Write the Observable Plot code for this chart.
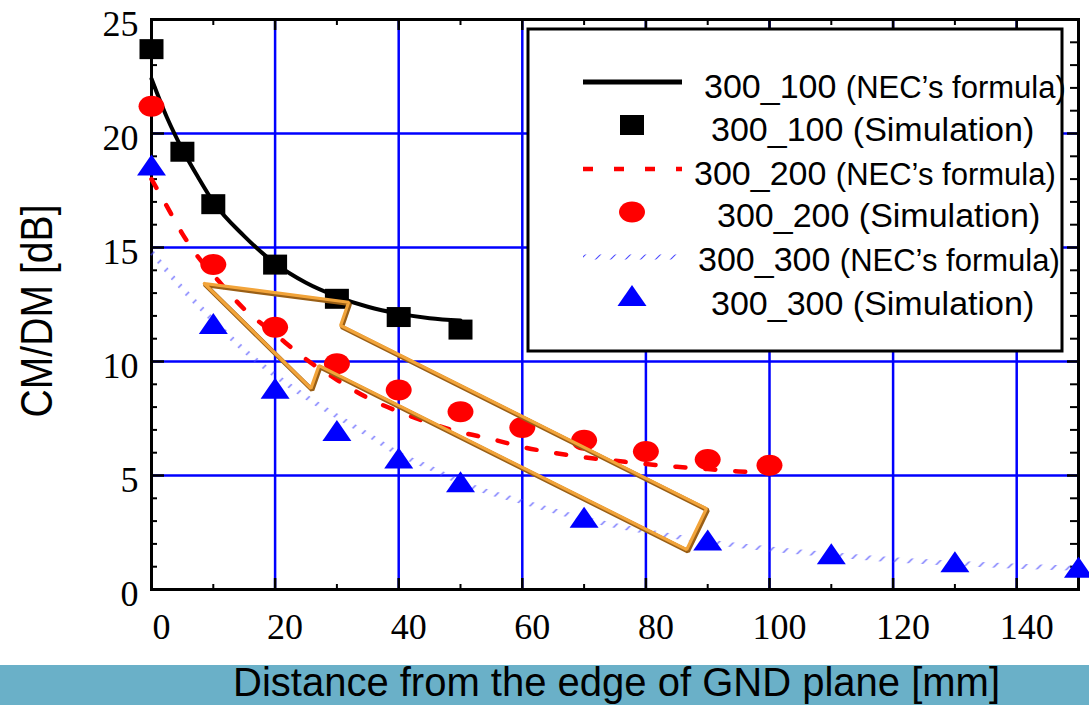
<!DOCTYPE html>
<html>
<head>
<meta charset="utf-8">
<script src="https://cdn.jsdelivr.net/npm/d3@7"></script>
<script src="https://cdn.jsdelivr.net/npm/@observablehq/plot@0.6"></script>
<style>
  body { margin: 0; background: #fff; }
  #wrap { width: 1089px; position: relative; }
  .xlabel {
    height: 40px; background: #6ab0c8; color: #000;
    font: 40px "Liberation Sans", Arial, sans-serif; line-height: 34px;
    padding-left: 233px; white-space: nowrap;
  }
</style>
</head>
<body>
<svg width="0" height="0" style="position:absolute">
  <defs>
    <!-- diagonal hatch used as the paint of the 300_300 formula curve -->
    <pattern id="hatch" patternUnits="userSpaceOnUse" width="15" height="15">
      <path d="M-1,16L16,-1M-1,1L1,-1M14,16L16,14" stroke="#4a4aff" stroke-width="1.1"/>
    </pattern>
  </defs>
</svg>
<div id="wrap"></div>
<div class="xlabel">Distance from the edge of GND plane [mm]</div>
<script>
// 300_100: NEC's formula and simulation
const xNec100 = [0, 2.5, 5, 7.5, 10, 15, 20, 25, 30, 35, 40, 45, 50];
const nec100  = [22.4, 20.7, 19.3, 18.1, 17.0, 15.5, 14.3, 13.45, 12.85, 12.4, 12.1, 11.9, 11.8];
const xSim100 = [0, 5, 10, 20, 30, 40, 50];
const sim100  = [23.7, 19.2, 16.9, 14.25, 12.75, 11.95, 11.4];

// 300_200
const xNec200 = [0, 2.5, 5, 7.5, 10, 15, 20, 25, 30, 35, 40, 45, 50, 55, 60, 65, 70, 75, 80, 85, 90, 95, 100];
const nec200  = [18.0, 16.8, 15.6, 14.6, 13.8, 12.3, 11.2, 10.1, 9.2, 8.4, 7.8, 7.3, 6.9, 6.6, 6.25, 6.0, 5.8, 5.65, 5.5, 5.38, 5.28, 5.18, 5.1];
const xSim200 = [0, 10, 20, 30, 40, 50, 60, 70, 80, 90, 100];
const sim200  = [21.2, 14.25, 11.5, 9.9, 8.75, 7.8, 7.1, 6.55, 6.05, 5.7, 5.45];

// 300_300
const xNec300 = [0, 5, 10, 15, 20, 25, 30, 35, 40, 45, 50, 60, 70, 80, 90, 100, 110, 120, 130, 140, 150];
const nec300  = [14.8, 13.2, 11.8, 10.5, 9.4, 8.45, 7.6, 6.8, 5.95, 5.35, 4.7, 3.85, 3.1, 2.55, 2.1, 1.78, 1.52, 1.3, 1.15, 1.02, 0.93];
const xSim300 = [0, 10, 20, 30, 40, 50, 70, 90, 110, 130, 150];
const sim300  = [18.6, 11.65, 8.8, 6.95, 5.75, 4.7, 3.15, 2.15, 1.55, 1.2, 0.95];

// hollow arrow annotation (data coordinates)
const arrowX = [8.55, 31.9, 30.6, 89.8, 86.6, 27.1, 25.8, 8.55];
const arrowY = [13.42, 12.6, 11.58, 3.55, 1.75, 9.82, 8.82, 13.42];

// axis ticks and grid
const xTicks = [0, 20, 40, 60, 80, 100, 120, 140];
const yTicks = [0, 5, 10, 15, 20, 25];
const xGrid = [20, 40, 60, 80, 100, 120, 140];
const yGrid = [5, 10, 15, 20];
const xMinor = [10, 30, 50, 70, 90, 110, 130];
const yMinor = d3.range(1, 25).filter(v => v % 5 !== 0);

// legend entries
const legendItems = [
  {kind: "line100", name: "300_100", note: "(NEC’s formula)"},
  {kind: "square",  name: "300_100", note: "(Simulation)"},
  {kind: "line200", name: "300_200", note: "(NEC’s formula)"},
  {kind: "circle",  name: "300_200", note: "(Simulation)"},
  {kind: "line300", name: "300_300", note: "(NEC’s formula)"},
  {kind: "triangle",name: "300_300", note: "(Simulation)"}
];

const zip = (xs, ys) => xs.map((x, i) => ({x, y: ys[i]}));

// marker shapes
const squareSym = {draw(c) { c.moveTo(-12, -10); c.lineTo(12, -10); c.lineTo(12, 10); c.lineTo(-12, 10); c.closePath(); }};
const ellipseSym = {draw(c) {
  const rx = 13, ry = 10.5, k = 0.5523;
  c.moveTo(rx, 0);
  c.bezierCurveTo(rx, ry * k, rx * k, ry, 0, ry);
  c.bezierCurveTo(-rx * k, ry, -rx, ry * k, -rx, 0);
  c.bezierCurveTo(-rx, -ry * k, -rx * k, -ry, 0, -ry);
  c.bezierCurveTo(rx * k, -ry, rx, -ry * k, rx, 0);
  c.closePath();
}};
const triSym = {draw(c) { c.moveTo(0, -11); c.lineTo(14.5, 10); c.lineTo(-14.5, 10); c.closePath(); }};

const W = 1089, H = 665, ML = 151, MR = 11, MT = 19, MB = 76;
const PW = W - ML - MR, PH = H - MT - MB;

const chart = Plot.plot({
  width: W, height: H,
  marginLeft: ML, marginRight: MR, marginTop: MT, marginBottom: MB,
  x: {domain: [0, 150]},
  y: {domain: [0, 25]},
  style: {background: "white", overflow: "visible"},
  marks: [
    Plot.ruleX(xGrid, {stroke: "#0000ff", strokeWidth: 2.5}),
    Plot.ruleY(yGrid, {stroke: "#0000ff", strokeWidth: 2.5}),
    // inward ticks on all four sides
    Plot.tickX(xMinor, {x: d => d, insetTop: PH - 5, stroke: "black", strokeWidth: 2}),
    Plot.tickX(xGrid, {x: d => d, insetTop: PH - 11, stroke: "black", strokeWidth: 2.5}),
    Plot.tickX(xMinor, {x: d => d, insetBottom: PH - 6, stroke: "black", strokeWidth: 2}),
    Plot.tickX(xGrid, {x: d => d, insetBottom: PH - 11, stroke: "black", strokeWidth: 2.5}),
    Plot.tickY(yMinor, {y: d => d, insetRight: PW - 6, stroke: "black", strokeWidth: 2}),
    Plot.tickY(yGrid, {y: d => d, insetRight: PW - 13, stroke: "black", strokeWidth: 2.5}),
    Plot.tickY(yMinor, {y: d => d, insetLeft: PW - 8, stroke: "black", strokeWidth: 2}),
    Plot.tickY(yGrid, {y: d => d, insetLeft: PW - 11, stroke: "black", strokeWidth: 2.5}),
    Plot.frame({stroke: "black", strokeWidth: 3}),
    Plot.axisX({ticks: xTicks, tickSize: 0, tickPadding: 24, dx: 10, fontSize: 36,
      fontFamily: "Liberation Serif", label: null, tickFormat: d => String(d)}),
    Plot.axisY({ticks: yTicks, tickSize: 0, tickPadding: 13, dy: 5, fontSize: 36,
      fontFamily: "Liberation Serif", label: null, tickFormat: d => String(d)}),
    // formula curves
    Plot.line(zip(xNec300, nec300), {x: "x", y: "y", stroke: "url(#hatch)", strokeWidth: 5, curve: "monotone-x"}),
    Plot.line(zip(xNec200, nec200), {x: "x", y: "y", stroke: "#ff0000", strokeWidth: 4.5, strokeDasharray: "10,20", curve: "monotone-x"}),
    Plot.line(zip(xNec100, nec100), {x: "x", y: "y", stroke: "black", strokeWidth: 4, curve: "monotone-x"}),
    // simulation points
    Plot.dot(zip(xSim300, sim300), {x: "x", y: "y", symbol: triSym, fill: "#0000ff", stroke: "none"}),
    Plot.dot(zip(xSim200, sim200), {x: "x", y: "y", symbol: ellipseSym, fill: "#ff0000", stroke: "none"}),
    Plot.dot(zip(xSim100, sim100), {x: "x", y: "y", symbol: squareSym, fill: "black", stroke: "none"}),
    // hollow arrow
    Plot.line(zip(arrowX, arrowY), {x: "x", y: "y", stroke: "#9a5f16", strokeWidth: 4.5, dx: 1.2, dy: 1.6, strokeLinejoin: "miter"}),
    Plot.line(zip(arrowX, arrowY), {x: "x", y: "y", stroke: "#f2a43a", strokeWidth: 3.2, strokeLinejoin: "miter"})
  ]
});
document.getElementById("wrap").appendChild(chart);

const svg = d3.select(chart);

// y axis title
svg.append("text")
  .attr("transform", "translate(52,311) rotate(-90)")
  .attr("text-anchor", "middle")
  .attr("font-family", "Liberation Sans, Arial, sans-serif")
  .attr("font-size", 44)
  .attr("textLength", 213)
  .attr("lengthAdjust", "spacingAndGlyphs")
  .attr("fill", "black")
  .text("CM/DM [dB]");

// legend box
const lg = svg.append("g").attr("text-anchor", "start");
lg.append("rect").attr("x", 528).attr("y", 29).attr("width", 534).attr("height", 322)
  .attr("fill", "white").attr("stroke", "black").attr("stroke-width", 3);

const rowY = [82, 125, 169, 212, 257, 296];
const textX = [704, 711, 694, 717, 698, 711];
const baseY = [98, 141, 185, 227, 271, 315];
const symPath = s => { const p = d3.path(); s.draw(p); return p.toString(); };

legendItems.forEach((it, i) => {
  const y = rowY[i];
  if (it.kind === "line100") {
    lg.append("line").attr("x1", 583).attr("x2", 682).attr("y1", y).attr("y2", y)
      .attr("stroke", "black").attr("stroke-width", 5);
  } else if (it.kind === "line200") {
    lg.append("line").attr("x1", 583).attr("x2", 682).attr("y1", y).attr("y2", y)
      .attr("stroke", "#ff0000").attr("stroke-width", 4.5).attr("stroke-dasharray", "10,21");
  } else if (it.kind === "line300") {
    lg.append("line").attr("x1", 583).attr("x2", 682).attr("y1", y).attr("y2", y)
      .attr("stroke", "url(#hatch)").attr("stroke-width", 5);
  } else {
    const s = it.kind === "square" ? squareSym : it.kind === "circle" ? ellipseSym : triSym;
    const fill = it.kind === "square" ? "black" : it.kind === "circle" ? "#ff0000" : "#0000ff";
    lg.append("path").attr("d", symPath(s)).attr("transform", `translate(632,${y})`).attr("fill", fill);
  }
  const t = lg.append("text").attr("x", textX[i]).attr("y", baseY[i])
    .attr("text-anchor", "start")
    .attr("font-family", "Liberation Sans, Arial, sans-serif").attr("fill", "black");
  t.append("tspan").attr("font-size", 34).text(it.name + " ");
  t.append("tspan").attr("font-size", it.kind.startsWith("line") ? 31 : 34).text(it.note);
});
</script>
</body>
</html>
